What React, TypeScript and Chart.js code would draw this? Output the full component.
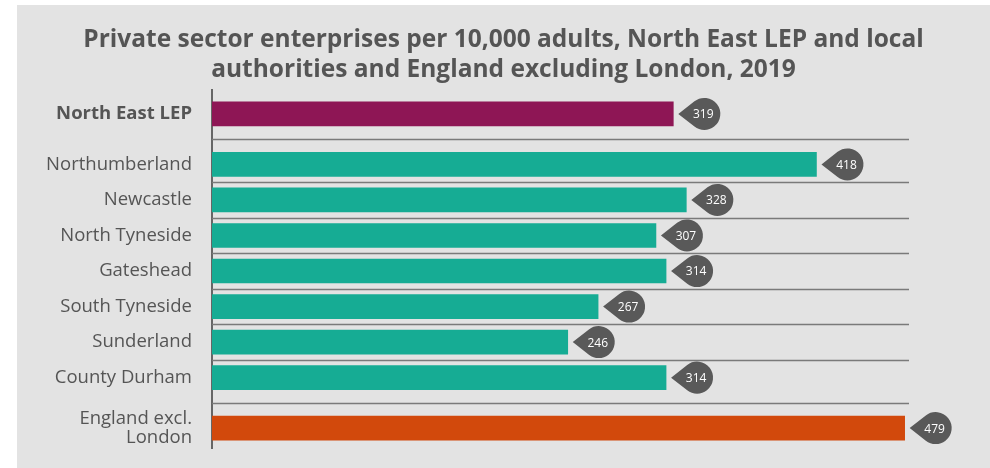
import React, { useEffect, useRef } from "react";
import { Chart, registerables } from "chart.js";

Chart.register(...registerables);

// ---- data ----
const titleLines = [
  "Private sector enterprises per 10,000 adults, North East LEP and local",
  "authorities and England excluding London, 2019",
];
const categories = [
  "North East LEP",
  "Northumberland",
  "Newcastle",
  "North Tyneside",
  "Gateshead",
  "South Tyneside",
  "Sunderland",
  "County Durham",
  "England excl. London",
];
const tickLabels: (string | string[])[] = [
  "North East LEP",
  "Northumberland",
  "Newcastle",
  "North Tyneside",
  "Gateshead",
  "South Tyneside",
  "Sunderland",
  "County Durham",
  ["England excl.", "London"],
];
const groups = ["lep", "la", "la", "la", "la", "la", "la", "la", "england"];
const values = [319, 418, 328, 307, 314, 267, 246, 314, 479];

// ---- layout / style ----
const FONT = "'Open Sans', sans-serif";
const GROUP_GAP = 0.42;
const GROUP_COLORS: Record<string, string> = {
  lep: "#8e1655",
  la: "#16ac94",
  england: "#d2490c",
};
const W = 973;
const H = 463;

function slotPositions(): number[] {
  const out: number[] = [];
  let p = 0;
  groups.forEach((g, i) => {
    if (i > 0) {
      p += 1;
      if (g !== groups[i - 1]) p += GROUP_GAP;
    }
    out.push(p);
  });
  return out;
}

export default function App() {
  const ref = useRef<HTMLCanvasElement | null>(null);

  useEffect(() => {
    if (!ref.current) return;
    const pos = slotPositions();

    const separators = {
      id: "separators",
      beforeDatasetsDraw(chart: any) {
        const { ctx, chartArea } = chart;
        const ys = chart.scales.y;
        ctx.save();
        ctx.strokeStyle = "#7a7a7a";
        ctx.lineWidth = 1.5;
        for (let i = 0; i < pos.length - 1; i++) {
          const y = Math.round(ys.getPixelForValue((pos[i] + pos[i + 1]) / 2)) + 0.5;
          ctx.beginPath();
          ctx.moveTo(chartArea.left, y);
          ctx.lineTo(chartArea.right, y);
          ctx.stroke();
        }
        ctx.restore();
      },
    };

    const bubbles = {
      id: "bubbles",
      afterDatasetsDraw(chart: any) {
        const { ctx } = chart;
        const meta = chart.getDatasetMeta(0);
        ctx.save();
        meta.data.forEach((bar: any, i: number) => {
          const tip = bar.x + 5;
          const r = 16;
          const d = 26;
          const cx = tip + d;
          const y = bar.y;
          const th = Math.acos(r / d);
          ctx.beginPath();
          ctx.moveTo(tip, y);
          ctx.arc(cx, y, r, Math.PI + th, Math.PI - th);
          ctx.closePath();
          ctx.fillStyle = "#595959";
          ctx.fill();
          ctx.fillStyle = "#ffffff";
          ctx.font = `12px ${FONT}`;
          ctx.textAlign = "center";
          ctx.textBaseline = "middle";
          ctx.fillText(String(values[i]), cx - 1, y + 1);
        });
        ctx.restore();
      },
    };

    const chart = new Chart(ref.current, {
      type: "bar",
      data: {
        labels: categories,
        datasets: [
          {
            data: values.map((v, i) => ({ x: v, y: pos[i] })) as any,
            backgroundColor: groups.map((g) => GROUP_COLORS[g]),
            borderWidth: 0,
            barThickness: 24,
            grouped: false,
          },
        ],
      },
      options: {
        indexAxis: "y",
        animation: false,
        responsive: false,
        layout: { padding: { left: 0, right: 0, top: 0, bottom: 20 } },
        plugins: {
          legend: { display: false },
          tooltip: { enabled: false },
          title: {
            display: true,
            text: titleLines,
            color: "#555555",
            font: { family: FONT, size: 24.5, weight: "bold", lineHeight: 1.22 },
            padding: { top: 20, bottom: 5 },
          },
        },
        scales: {
          x: { type: "linear", min: 0, max: 482, display: false },
          y: {
            type: "linear",
            reverse: true,
            offset: false,
            min: -0.68,
            max: pos[pos.length - 1] + 0.56,
            afterBuildTicks: (s: any) => {
              s.ticks = pos.map((v) => ({ value: v }));
            },
            afterFit: (s: any) => {
              s.width = 195;
              s.paddingTop = 0;
              s.paddingBottom = 0;
            },
            grid: { display: false, drawTicks: false },
            border: { display: true, color: "#666666", width: 2 },
            ticks: {
              padding: 20,
              color: "#555555",
              autoSkip: false,
              font: (c: any) => ({
                family: FONT,
                size: 18.5,
                weight: c.index === 0 ? "bold" : "normal",
                lineHeight: 1.05,
              }),
              callback: (_v: any, i: number) => tickLabels[i],
            },
          },
          spacer: {
            type: "linear",
            axis: "y",
            position: "right",
            display: true,
            grid: { display: false, drawTicks: false },
            border: { display: false },
            ticks: { display: false },
            afterFit: (s: any) => {
              s.width = 81;
            },
          },
        },
      },
      plugins: [separators, bubbles],
    });
    return () => chart.destroy();
  }, []);

  return (
    <div
      style={{
        position: "absolute",
        left: 17,
        top: 5,
        width: W,
        height: H,
        background: "#e3e3e3",
      }}
    >
      <canvas ref={ref} width={W} height={H} />
    </div>
  );
}
